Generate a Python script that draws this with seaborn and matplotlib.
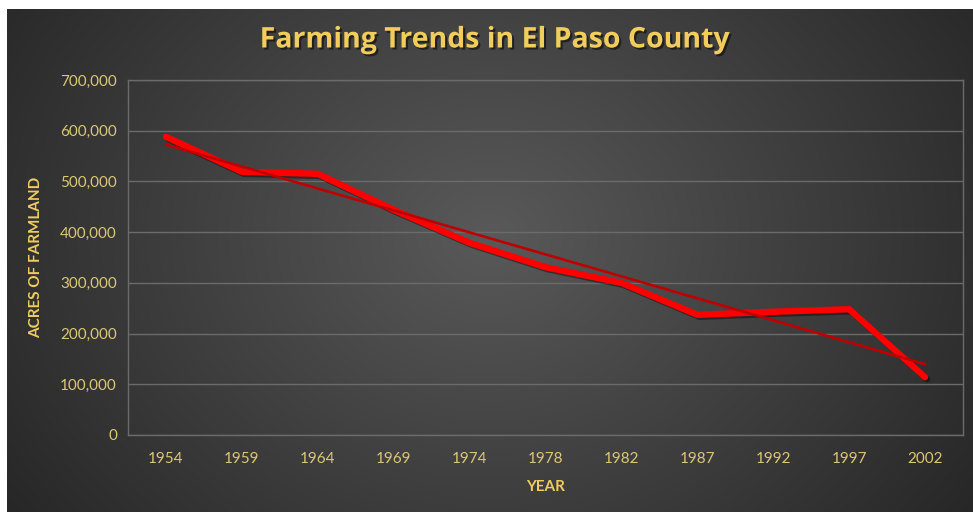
import numpy as np
import pandas as pd
import matplotlib
matplotlib.use('Agg')
import matplotlib.pyplot as plt
import matplotlib.patheffects as pe
import seaborn as sns

years = ['1954', '1959', '1964', '1969', '1974', '1978', '1982', '1987', '1992', '1997', '2002']
acres = [588000, 519000, 515000, 444000, 379000, 331000, 300000, 237000, 243000, 248000, 114000]
y_ticks = [0, 100000, 200000, 300000, 400000, 500000, 600000, 700000]

gold = '#F2CD5C'
tick_gold = '#DCC873'
grid_col = '#6B6B6B'

sns.set_theme(style='dark')
plt.rcParams['font.family'] = ['Lato', 'DejaVu Sans']

df = pd.DataFrame({'pos': np.arange(len(years)), 'acres': acres})
# linear trendline, like the spreadsheet one
slope, icpt = np.polyfit(df['pos'], df['acres'], 1)
df['trend'] = icpt + slope * df['pos']

fig = plt.figure(figsize=(9.73, 5.12), dpi=100)
fig.patch.set_facecolor('white')

# background panel with radial gradient
bg = fig.add_axes([7 / 973, 0, 966 / 973, 503 / 512])
gx, gy = np.meshgrid(np.linspace(-1, 1, 400), np.linspace(-1, 1, 220))
r = np.sqrt((gx * 0.95) ** 2 + ((gy + 0.1) * 0.6) ** 2)
shade = np.clip(0.35 - 0.17 * r, 0, 1)
bg.imshow(np.dstack([shade, shade, shade]), aspect='auto', extent=[0, 1, 0, 1])
bg.set_axis_off()

ax = fig.add_axes([128 / 973, 77 / 512, 835 / 973, 355 / 512])
ax.patch.set_alpha(0)

sns.lineplot(data=df, x='pos', y='acres', ax=ax, color='#FF0000', lw=4.6,
             solid_capstyle='round', solid_joinstyle='round', zorder=3,
             path_effects=[pe.SimpleLineShadow(offset=(1.5, -1.5), shadow_color='black', alpha=0.4), pe.Normal()])
sns.lineplot(data=df, x='pos', y='trend', ax=ax, color='#C00000', lw=1.9, zorder=4)

ax.set_xlim(-0.5, len(years) - 0.5)
ax.set_ylim(0, 700000)
ax.set_xticks(df['pos'])
ax.set_xticklabels(years)
ax.set_yticks(y_ticks)
ax.set_yticklabels([f'{v:,}' for v in y_ticks])
ax.tick_params(colors=tick_gold, labelsize=11, length=0, pad=8)
ax.tick_params(axis='x', pad=12)
ax.grid(axis='y', color=grid_col, lw=1)
ax.grid(axis='x', visible=False)
for s in ax.spines.values():
    s.set_color(grid_col)
    s.set_linewidth(1)

ax.set_xlabel('YEAR', color=gold, fontsize=11, fontweight='bold', labelpad=10)
ax.set_ylabel('ACRES OF FARMLAND', color=gold, fontsize=11, fontweight='bold', labelpad=12)

fig.text(495 / 973, 1 - 40 / 512, 'Farming Trends in El Paso County', color=gold,
         fontsize=20.5, fontweight='bold', ha='center', va='center', family=['Open Sans', 'DejaVu Sans'],
         path_effects=[pe.withSimplePatchShadow(offset=(1.5, -1.5), shadow_rgbFace='black', alpha=0.5)])

fig.savefig('out.png', dpi=100, facecolor=fig.get_facecolor())
